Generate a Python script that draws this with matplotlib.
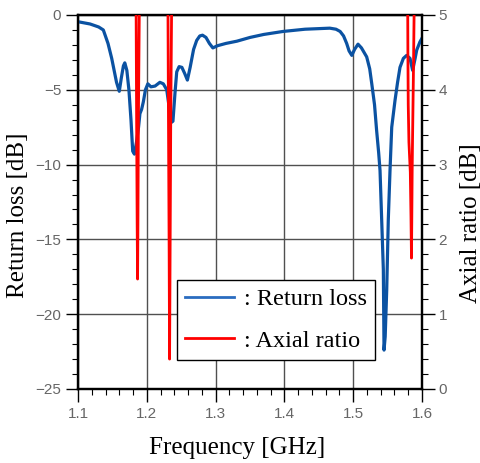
import numpy as np
import matplotlib
matplotlib.use("Agg")
import matplotlib.pyplot as plt
from matplotlib.lines import Line2D
from matplotlib.ticker import MultipleLocator

# return loss [dB]
freq_rl = [1.100, 1.1175, 1.130, 1.1368, 1.1436, 1.149, 1.156, 1.160, 1.163, 1.166,
           1.168, 1.171, 1.174, 1.177, 1.1795, 1.182, 1.185, 1.188, 1.190, 1.1925,
           1.195, 1.198, 1.2015, 1.206, 1.212, 1.219, 1.224, 1.229, 1.232, 1.235,
           1.238, 1.241, 1.2435, 1.247, 1.251, 1.255, 1.259, 1.263, 1.268, 1.2725,
           1.277, 1.281, 1.286, 1.291, 1.296, 1.303, 1.315, 1.331, 1.350, 1.370,
           1.398, 1.430, 1.466, 1.475, 1.481, 1.486, 1.4905, 1.494, 1.498, 1.502,
           1.507, 1.512, 1.5196, 1.524, 1.527, 1.531, 1.534, 1.537, 1.539, 1.5414,
           1.5438, 1.5448, 1.5465, 1.5487, 1.551, 1.5535, 1.556, 1.5608, 1.5645, 1.568,
           1.5729, 1.5777, 1.5826, 1.5864, 1.590, 1.5923, 1.597, 1.600]
return_loss = [-0.45, -0.6, -0.8, -1.0, -1.9, -2.9, -4.5, -5.1, -4.2, -3.4,
               -3.2, -3.7, -5.0, -7.0, -9.1, -9.3, -8.5, -7.5, -6.6, -6.3,
               -5.8, -5.0, -4.6, -4.8, -4.75, -4.5, -4.6, -5.0, -6.0, -7.2,
               -7.1, -5.2, -3.8, -3.45, -3.5, -3.9, -4.35, -3.5, -2.3, -1.7,
               -1.4, -1.35, -1.5, -1.9, -2.2, -2.05, -1.9, -1.75, -1.5, -1.3,
               -1.1, -0.95, -0.88, -0.95, -1.1, -1.4, -1.9, -2.4, -2.7, -2.3,
               -1.95, -2.2, -2.8, -3.6, -4.6, -6.0, -7.7, -9.2, -10.4, -13.7,
               -17.0, -22.4, -21.5, -18.4, -13.7, -10.4, -7.5, -5.7, -4.5, -3.5,
               -2.9, -2.7, -2.9, -3.7, -2.9, -2.35, -1.8, -1.55]

# axial ratio [dB], only the three dips below 5 dB are visible
freq_ar = [1.1842, 1.1852, 1.1860, 1.1866, 1.1871, 1.1878, 1.1896, np.nan,
           1.2305, 1.2315, 1.2325, 1.2331, 1.2337, 1.2348, 1.2365, np.nan,
           1.5790, 1.5795, 1.5800, 1.5810, 1.5830, 1.5840, 1.5847, 1.5852,
           1.5857, 1.5862, 1.5875, 1.5885, 1.5890]
axial_ratio = [5.6, 3.6, 2.2, 1.47, 2.2, 3.6, 5.6, np.nan,
               5.6, 3.6, 1.8, 0.40, 1.5, 3.6, 5.6, np.nan,
               5.6, 4.5, 3.8, 3.3, 2.9, 2.3, 1.75, 2.3,
               2.9, 3.3, 4.2, 5.0, 5.6]

blue = "#0b52a2"
red = "#ff0000"
serif = "Liberation Serif"
tick_font = "Liberation Sans"

fig = plt.figure(figsize=(4.81, 4.63), dpi=100)
ax = fig.add_axes([78 / 481, 1 - 389 / 463, 344 / 481, 374 / 463])
ax2 = ax.twinx()

ax.plot(freq_rl, return_loss, color=blue, lw=2.3, zorder=3)
ax2.plot(freq_ar, axial_ratio, color=red, lw=2.0, zorder=3)

ax.set_xlim(1.1, 1.6)
ax.set_ylim(-25, 0)
ax2.set_ylim(0, 5)

ax.xaxis.set_major_locator(MultipleLocator(0.1))
ax.xaxis.set_minor_locator(MultipleLocator(0.02))
ax.yaxis.set_major_locator(MultipleLocator(5))
ax.yaxis.set_minor_locator(MultipleLocator(1))
ax2.yaxis.set_major_locator(MultipleLocator(1))
ax2.yaxis.set_minor_locator(MultipleLocator(0.2))

ax.grid(which="major", color="#505050", lw=1.0, zorder=1)

for a in (ax, ax2):
    for s in a.spines.values():
        s.set_linewidth(1.6)
    a.tick_params(which="major", direction="out", length=9, width=1.0,
                  labelsize=11, labelcolor="#666666", pad=3)
    a.tick_params(which="minor", direction="out", length=4.5, width=0.8)
ax.tick_params(axis="x", pad=4)
for lab in ax.get_xticklabels() + ax.get_yticklabels() + ax2.get_yticklabels():
    lab.set_family(tick_font)

fig.text(237 / 481, 1 - 448 / 463, "Frequency [GHz]", family=serif, fontsize=18,
         ha="center", va="center")
fig.text(18 / 481, 1 - 215 / 463, "Return loss [dB]", family=serif, fontsize=18,
         ha="center", va="center", rotation=90)
fig.text(471 / 481, 1 - 223 / 463, "Axial ratio [dB]", family=serif, fontsize=18,
         ha="center", va="center", rotation=90)

handles = [Line2D([], [], color="#2a6cc0", lw=2.0),
           Line2D([], [], color=red, lw=2.0)]
leg = ax2.legend(handles, [": Return loss", ": Axial ratio"],
                 loc="lower left", bbox_to_anchor=(0.287, 0.0775),
                 borderaxespad=0, prop={"family": serif, "size": 17.5},
                 frameon=True, fancybox=False, edgecolor="black", framealpha=1,
                 handlelength=2.0, handletextpad=0.4, labelspacing=0.8,
                 borderpad=0.35)
leg.get_frame().set_linewidth(1.0)

fig.savefig("out.png", dpi=100)
